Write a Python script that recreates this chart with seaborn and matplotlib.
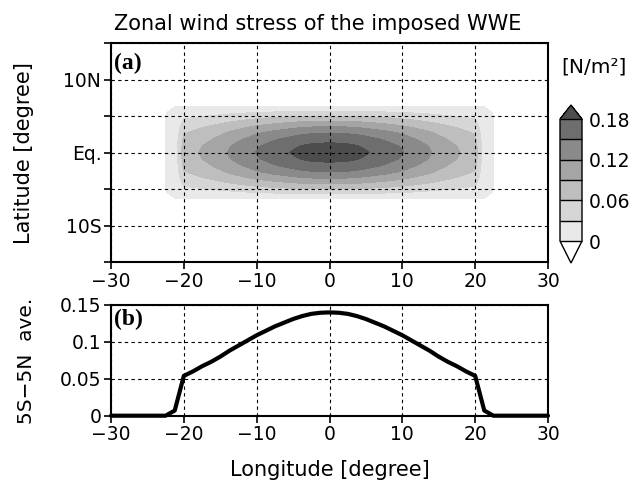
import numpy as np
import pandas as pd
import seaborn as sns
import matplotlib.pyplot as plt
from matplotlib.colors import ListedColormap

# panel (b): 5S-5N average of the zonal wind stress [N/m2]
lon = [-30, -22.5, -21.25, -20, -18.75, -17.5, -16.25, -15, -13.75, -12.5, -11.25,
       -10, -8.75, -7.5, -6.25, -5, -3.75, -2.5, -1.25, 0,
       1.25, 2.5, 3.75, 5, 6.25, 7.5, 8.75, 10, 11.25, 12.5, 13.75, 15, 16.25,
       17.5, 18.75, 20, 21.25, 22.5, 30]
tau_avg = [0, 0, 0.007, 0.054, 0.060, 0.067, 0.073, 0.080, 0.088, 0.095, 0.102,
           0.109, 0.115, 0.121, 0.126, 0.131, 0.135, 0.138, 0.1395, 0.140,
           0.1395, 0.138, 0.135, 0.131, 0.126, 0.121, 0.115, 0.109, 0.102, 0.095, 0.088,
           0.080, 0.073, 0.067, 0.060, 0.054, 0.007, 0, 0]

# panel (a): stress along the 0E column
lat = [-15, -6.3, -5.4, -4.5, -3.6, -2.7, -1.8, -0.9, 0, 0.9, 1.8, 2.7, 3.6, 4.5, 5.4, 6.3, 15]
tau_col = [0, 0, 0.042, 0.082, 0.118, 0.149, 0.171, 0.188, 0.195, 0.188, 0.171, 0.149,
           0.118, 0.082, 0.042, 0, 0]

levels = [0.0001, 0.03, 0.06, 0.09, 0.12, 0.15, 0.18]
cb_ticks = [0.0001, 0.06, 0.12, 0.18]
cb_labels = ['0', '0.06', '0.12', '0.18']
lat_ticks = [-15, -10, -5, 0, 5, 10, 15]
lat_labels = ['', '10S', '', 'Eq.', '', '10N', '']
lon_ticks = [-30, -20, -10, 0, 10, 20, 30]
avg_ticks = [0, 0.05, 0.1, 0.15]
avg_labels = ['0', '0.05', '0.1', '0.15']

shades = ['#e9e9e9', '#d6d6d6', '#bebebe', '#a5a5a5', '#8a8a8a', '#6e6e6e']

# 2-d field: meridional column scaled by the zonal shape
zonal_shape = np.array(tau_avg) / max(tau_avg)
field = np.outer(tau_col, zonal_shape)

sns.set_style("ticks")
plt.rcParams['font.family'] = ['DejaVu Sans']
plt.rcParams['text.color'] = 'black'
plt.rcParams['axes.labelcolor'] = 'black'

W, H = 634, 484
fig = plt.figure(figsize=(W / 100, H / 100), dpi=100)
ax1 = fig.add_axes([111 / W, 1 - 262 / H, 437 / W, 219 / H])
ax2 = fig.add_axes([111 / W, 1 - 415.7 / H, 437 / W, 110.7 / H])
cax = fig.add_axes([560 / W, 1 - 263 / H, 22 / W, 158 / H])

cmap = ListedColormap(shades)
cmap.set_under('white')
cmap.set_over('#4d4d4d')

cf = ax1.contourf(lon, lat, field, levels=levels, cmap=cmap, extend='both')
ax1.set_xlim(-30, 30)
ax1.set_ylim(-15, 15)
ax1.set_xticks(lon_ticks)
ax1.set_yticks(lat_ticks)
ax1.set_yticklabels(lat_labels)
ax1.set_axisbelow(False)
ax1.grid(True, color='black', linestyle=(0, (3, 3)), linewidth=0.8)
ax1.text(0.008, 0.905, '(a)', transform=ax1.transAxes, fontsize=17, fontweight='bold',
         family='Liberation Serif', ha='left', va='center')

df = pd.DataFrame({'lon': lon, 'tau': tau_avg})
sns.lineplot(data=df, x='lon', y='tau', color='black', linewidth=3, ax=ax2,
             clip_on=False, zorder=5)
ax2.set_xlim(-30, 30)
ax2.set_ylim(0, 0.15)
ax2.set_xticks(lon_ticks)
ax2.set_yticks(avg_ticks)
ax2.set_yticklabels(avg_labels)
ax2.set_xlabel('')
ax2.set_ylabel('')
ax2.set_axisbelow(False)
ax2.grid(True, color='black', linestyle=(0, (3, 3)), linewidth=0.8)
ax2.text(0.008, 0.87, '(b)', transform=ax2.transAxes, fontsize=17, fontweight='bold',
         family='Liberation Serif', ha='left', va='center')

for ax in (ax1, ax2):
    ax.tick_params(direction='out', length=5, width=1.2, labelsize=13.5, pad=2,
                   colors='black')
    for s in ax.spines.values():
        s.set_visible(True)
        s.set_linewidth(1.5)
        s.set_color('black')

cb = fig.colorbar(cf, cax=cax, extend='both', extendfrac=[0.18, 0.115],
                  drawedges=True, ticks=cb_ticks)
cb.ax.set_yticklabels(cb_labels)
cb.ax.tick_params(length=0, labelsize=13.5, pad=5, colors='black')
cb.outline.set_linewidth(1.0)
cb.outline.set_edgecolor('black')
cb.dividers.set_linewidth(1.0)
cb.dividers.set_color('black')

fig.text(318 / W, 1 - 30 / H, 'Zonal wind stress of the imposed WWE', fontsize=15,
         ha='center', va='baseline')
fig.text(24 / W, 1 - 153 / H, 'Latitude [degree]', fontsize=15, rotation=90,
         ha='center', va='center')
fig.text(27 / W, 1 - 361 / H, '5S\u22125N  ave.', fontsize=14.5, rotation=90,
         ha='center', va='center')
fig.text(330 / W, 1 - 470 / H, 'Longitude [degree]', fontsize=15,
         ha='center', va='center')
fig.text(594 / W, 1 - 67 / H, '[N/m\u00b2]', fontsize=14.5, ha='center', va='center')

fig.savefig('out.png', dpi=100)
